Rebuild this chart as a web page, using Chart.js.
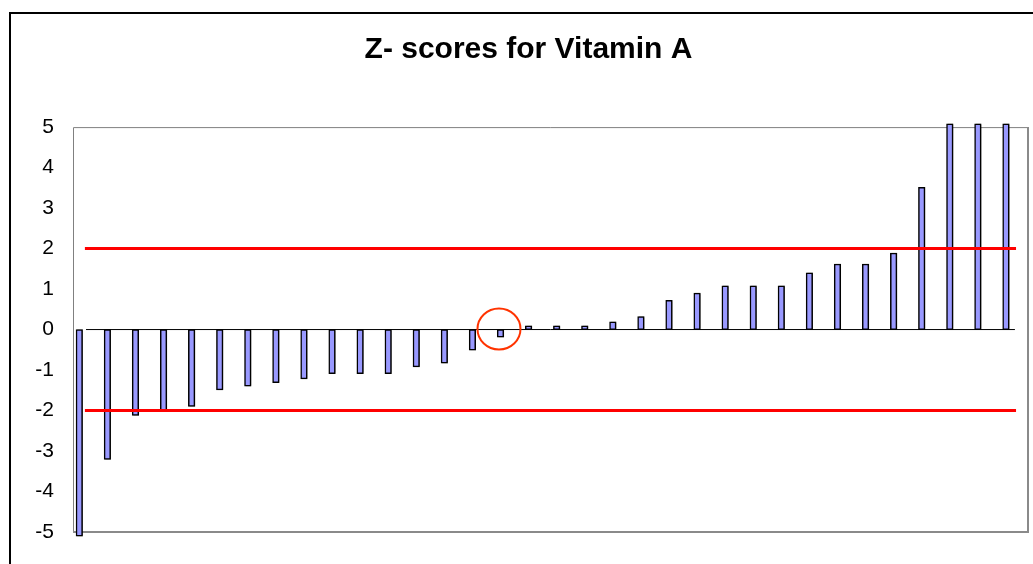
<!DOCTYPE html>
<html>
<head>
<meta charset="utf-8">
<script src="https://cdn.jsdelivr.net/npm/chart.js@4.4.0/dist/chart.umd.min.js"></script>
<style>
  html, body { margin: 0; padding: 0; background: #ffffff; overflow: hidden; }
  #wrap { position: absolute; left: 0; top: 0; width: 1033px; height: 564px; }
</style>
</head>
<body>
<div id="wrap"><canvas id="c" width="1033" height="564"></canvas></div>
<script>
// ---- data ----
const categories = ['1','2','3','4','5','6','7','8','9','10','11','12','13','14','15','16','17',
                    '18','19','20','21','22','23','24','25','26','27','28','29','30','31','32','33','34'];
const zScores = [-5.1, -3.21, -2.12, -2.0, -1.9, -1.49, -1.4, -1.31, -1.22, -1.09, -1.09, -1.09,
                 -0.92, -0.83, -0.51, -0.19, 0.09, 0.09, 0.09, 0.19, 0.32, 0.72, 0.9, 1.08,
                 1.08, 1.08, 1.4, 1.62, 1.62, 1.89, 3.51, 5.08, 5.08, 5.08];
const yTicks = [5, 4, 3, 2, 1, 0, -1, -2, -3, -4, -5];
const limits = [2, -2];          // acceptance limits |z| <= 2
const limitSpan = [0.2, 33.36];  // x extent (category index units) of the limit lines
const zeroSpan = [0.24, 33.32];  // x extent of the zero line
const highlightIndex = 15;       // circled result
const title = 'Z- scores for Vitamin A';

const FONT = '"Liberation Sans", Arial, Helvetica, sans-serif';

const datasets = [
  {
    type: 'bar',
    label: 'Z-score',
    data: zScores.map((v, i) => ({ x: i, y: v })),
    backgroundColor: '#9999ff',
    borderColor: '#000000',
    borderWidth: 1.5,
    borderSkipped: false,
    barThickness: 6.5,
    clip: false,
    order: 1
  },
  ...limits.map(l => ({
    type: 'line',
    label: 'limit ' + l,
    data: limitSpan.map(x => ({ x: x, y: l })),
    borderColor: '#ff0000',
    borderWidth: 3,
    pointRadius: 0,
    fill: false,
    clip: false,
    order: 0
  })),
  {
    type: 'line',
    label: 'zero',
    data: zeroSpan.map(x => ({ x: x, y: 0 })),
    borderColor: '#000000',
    borderWidth: 1,
    pointRadius: 0,
    fill: false,
    clip: false,
    order: 2
  }
];

const frame = {
  id: 'frame',
  beforeDraw(chart) {
    const ctx = chart.ctx;
    ctx.save();
    ctx.fillStyle = '#ffffff';
    ctx.fillRect(0, 0, chart.width, chart.height);
    // outer chart border
    ctx.fillStyle = '#000000';
    ctx.fillRect(9, 12, 2, chart.height);
    ctx.fillRect(9, 12, chart.width, 2);
    ctx.restore();
  },
  beforeDatasetsDraw(chart) {
    const a = chart.chartArea, ctx = chart.ctx;
    ctx.save();
    ctx.strokeStyle = '#808080';
    ctx.lineWidth = 1;
    ctx.beginPath();
    ctx.moveTo(a.left + 0.5, a.bottom);
    ctx.lineTo(a.left + 0.5, a.top + 0.5);
    ctx.lineTo(a.right, a.top + 0.5);
    ctx.stroke();
    ctx.strokeStyle = '#8a8a8a';
    ctx.lineWidth = 2;
    ctx.beginPath();
    ctx.moveTo(a.right, a.top);
    ctx.lineTo(a.right, a.bottom);
    ctx.lineTo(a.left, a.bottom);
    ctx.stroke();
    ctx.restore();
  },
  beforeDatasetDraw(chart, args) {
    if (args.meta.type === 'bar') {
      const ctx = chart.ctx;
      ctx.save();
      ctx.shadowColor = 'rgba(0,0,0,0.4)';
      ctx.shadowOffsetX = 1.5;
      ctx.shadowOffsetY = 0;
      ctx.shadowBlur = 0;
    }
  },
  afterDatasetDraw(chart, args) {
    if (args.meta.type === 'bar') chart.ctx.restore();
  },
  afterDatasetsDraw(chart) {
    const ctx = chart.ctx;
    const x = chart.scales.x.getPixelForValue(highlightIndex) - 1.5;
    const y = chart.scales.y.getPixelForValue(0) - 0.5;
    ctx.save();
    ctx.strokeStyle = '#ff3300';
    ctx.lineWidth = 2;
    ctx.beginPath();
    ctx.ellipse(x, y, 21.5, 20.5, 0, 0, Math.PI * 2);
    ctx.stroke();
    ctx.restore();
  }
};

new Chart(document.getElementById('c'), {
  type: 'bar',
  data: { labels: categories, datasets: datasets },
  plugins: [frame],
  options: {
    responsive: false,
    animation: false,
    layout: { padding: { top: 12, bottom: 32, left: 29, right: 5 } },
    plugins: {
      legend: { display: false },
      tooltip: { enabled: false },
      title: {
        display: true,
        text: title,
        color: '#000000',
        font: { family: FONT, size: 30, weight: 'bold', lineHeight: 1.2 },
        padding: { top: 20, bottom: 59.1 }
      }
    },
    scales: {
      x: {
        type: 'linear',
        display: false,
        min: -0.224,
        max: 33.786,
        offset: false
      },
      y: {
        min: -5,
        max: 5,
        afterFit(scale) { scale.width = 44; },
        afterBuildTicks(scale) { scale.ticks = yTicks.map(v => ({ value: v })); },
        grid: { display: false, drawTicks: false },
        border: { display: false },
        ticks: {
          color: '#000000',
          padding: 19,
          font: { family: FONT, size: 21 },
          callback: v => String(v)
        }
      }
    }
  }
});
</script>
</body>
</html>
